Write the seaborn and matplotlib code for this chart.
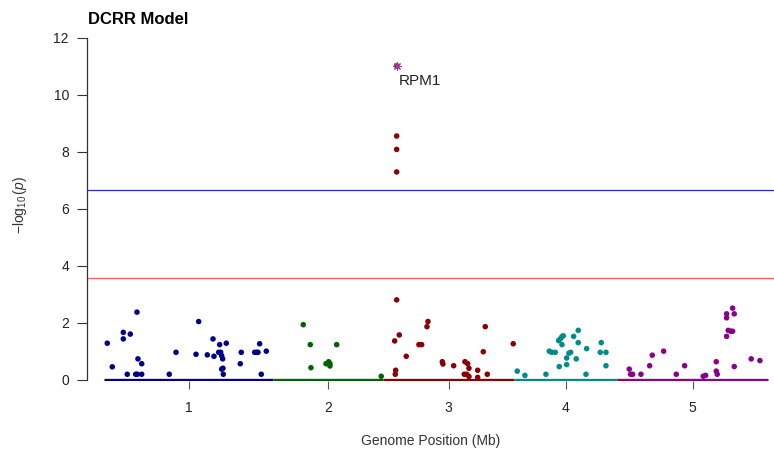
#!/usr/bin/env python3

import numpy as np
import pandas as pd
import matplotlib
matplotlib.use('Agg')
import matplotlib.pyplot as plt
import seaborn as sns

# Chromosome lengths (Mb) and colours
chrom_names = ['1', '2', '3', '4', '5']
chrom_lengths = [30.43, 19.70, 23.46, 18.59, 26.98]
chrom_colors = ['#00008B', '#006400', '#8B0000', '#008B8B', '#8B008B']

# Marker positions within each chromosome (Mb) and -log10(p)
chr1_pos = [0.59, 1.49, 3.47, 3.47, 4.72, 5.92, 4.18, 5.69, 5.98, 6.10, 6.77, 6.77,
            11.72, 12.93, 17.00, 16.52, 18.55, 19.57, 19.75, 20.77, 20.59, 20.95,
            21.13, 21.31, 21.13, 21.36, 21.42, 21.96, 24.65, 24.47, 27.06, 27.42,
            27.65, 27.95, 28.24, 29.14]
chr1_logp = [1.29, 0.46, 1.67, 1.44, 1.61, 2.38, 0.20, 0.20, 0.20, 0.74, 0.57, 0.20,
             0.20, 0.97, 2.05, 0.90, 0.88, 1.44, 0.83, 1.24, 0.97, 0.97,
             0.85, 0.74, 0.38, 0.41, 0.20, 1.29, 0.97, 0.57, 0.97, 0.97,
             0.97, 1.27, 0.20, 1.01]

chr2_pos = [5.35, 6.61, 11.35, 6.73, 9.43, 9.91, 10.14, 10.14, 19.35]
chr2_logp = [1.94, 1.24, 1.24, 0.43, 0.57, 0.64, 0.57, 0.49, 0.13]

chr3_pos = [2.42, 2.42, 2.42, 2.42, 2.89, 2.06, 4.14, 2.24, 2.17, 8.04, 7.86, 6.42,
            6.91, 10.61, 10.73, 12.65, 14.68, 15.17, 15.40, 14.56, 14.99, 15.40,
            16.96, 16.96, 18.69, 18.33, 17.97, 23.35]
chr3_logp = [8.56, 8.09, 7.30, 2.81, 1.58, 1.37, 0.83, 0.34, 0.20, 2.05, 1.87, 1.24,
             1.24, 0.64, 0.56, 0.50, 0.64, 0.57, 0.41, 0.20, 0.20, 0.12,
             0.34, 0.09, 0.20, 1.87, 0.99, 1.27]

chr4_pos = [0.61, 1.99, 5.76, 6.36, 6.79, 7.43, 8.15, 8.04, 8.33, 8.64, 8.87, 8.64,
            9.48, 9.48, 9.89, 10.20, 10.74, 11.56, 11.56, 11.20, 12.95, 13.07,
            15.69, 15.51, 16.54, 16.54]
chr4_logp = [0.31, 0.16, 0.20, 1.01, 0.97, 0.97, 0.47, 1.38, 1.44, 1.52, 1.55, 1.24,
             0.77, 0.54, 0.94, 0.97, 1.53, 1.74, 1.31, 0.74, 0.20, 1.10,
             1.31, 0.97, 0.97, 0.50]

chr5_pos = [2.13, 2.38, 2.74, 4.23, 5.79, 6.26, 8.30, 10.57, 12.07, 15.41, 15.84,
            17.75, 17.75, 17.93, 19.61, 19.61, 20.69, 20.98, 19.90, 20.33, 20.69,
            19.61, 20.98, 24.03, 25.59]
chr5_logp = [0.38, 0.20, 0.20, 0.20, 0.50, 0.87, 1.01, 0.20, 0.50, 0.13, 0.16,
             0.64, 0.31, 0.20, 2.32, 2.18, 2.52, 2.32, 1.74, 1.71, 1.71,
             1.53, 0.47, 0.74, 0.68]

# Top hit
hit_chrom = '3'
hit_pos = 2.42
hit_logp = 11.02
hit_label = 'RPM1'

# Significance thresholds
thresh_strict = 6.65
thresh_suggestive = 3.58


def build_frame():
    offsets = np.concatenate([[0], np.cumsum(chrom_lengths)[:-1]])
    parts = []
    for name, off, pos, lp in zip(chrom_names, offsets,
                                  [chr1_pos, chr2_pos, chr3_pos, chr4_pos, chr5_pos],
                                  [chr1_logp, chr2_logp, chr3_logp, chr4_logp, chr5_logp]):
        parts.append(pd.DataFrame({'chrom': name,
                                   'genome_pos': np.array(pos) + off,
                                   'logp': lp}))
    return pd.concat(parts, ignore_index=True), offsets


def main():
    df, offsets = build_frame()
    ends = offsets + np.array(chrom_lengths)
    mids = offsets + np.array(chrom_lengths) / 2

    sns.set_style('white')
    plt.rcParams['font.family'] = ['Liberation Sans', 'DejaVu Sans']
    plt.rcParams['mathtext.fontset'] = 'custom'
    plt.rcParams['mathtext.rm'] = 'Liberation Sans'
    plt.rcParams['mathtext.it'] = 'Liberation Sans:italic'

    fig = plt.figure(figsize=(7.74, 4.53), dpi=100)
    ax = fig.add_axes([0.1124, 0.1581, 0.8876, 0.7769])

    sns.scatterplot(data=df, x='genome_pos', y='logp', hue='chrom',
                    hue_order=chrom_names, palette=chrom_colors,
                    s=16, edgecolor='none', linewidth=0, legend=False,
                    ax=ax, clip_on=False, zorder=3)

    # coloured chromosome baseline
    ax.hlines(np.zeros(len(offsets)), offsets, ends, colors=chrom_colors,
              lw=2.4, zorder=4)

    # thresholds
    ax.axhline(thresh_strict, color='#2a2ad8', lw=0.9, zorder=2)
    ax.axhline(thresh_suggestive, color='#ff5c5c', lw=0.9, zorder=2)

    # top hit
    hx = offsets[chrom_names.index(hit_chrom)] + hit_pos
    ax.scatter([hx], [hit_logp], s=16, color='#8B1A4F', edgecolor='none', zorder=5)
    ax.scatter([hx], [hit_logp], s=28, marker=(8, 2, 0), color='#9B3B8B',
               linewidths=0.8, zorder=6)
    ax.text(hx + 0.35, hit_logp - 0.52, hit_label, ha='left', va='center',
            fontsize=11, color='#222222')

    ax.set_xlim(-3.05, 120.3)
    ax.set_ylim(-0.05, 12.3)

    ax.set_yticks(np.arange(0, 13, 2))
    ax.set_xticks(mids)
    ax.set_xticklabels(chrom_names)
    ax.tick_params(axis='y', length=7, width=0.8, color='#333333', pad=6,
                   labelsize=10, labelcolor='#222222', left=True)
    ax.tick_params(axis='x', length=6, width=0.8, color='#555555', pad=8,
                   labelsize=10, labelcolor='#222222', bottom=True)

    for side in ['top', 'right', 'bottom']:
        ax.spines[side].set_visible(False)
    ax.spines['left'].set_bounds(0, 12)
    ax.spines['left'].set_color('#333333')
    ax.spines['left'].set_linewidth(0.9)

    ax.set_xlabel('Genome Position (Mb)', fontsize=10, color='#333333')
    ax.set_ylabel(r'$-\log_{10}(p)$', fontsize=10, color='#333333')
    ax.xaxis.set_label_coords(0.5, -0.149)
    ax.yaxis.set_label_coords(-0.085, 0.5)

    fig.text(88 / 774, 1 - 20 / 453, 'DCRR Model', ha='left', va='center',
             fontsize=12, fontweight='bold', color='black')

    fig.savefig('out.png', dpi=100)
    plt.close(fig)


if __name__ == '__main__':
    main()
